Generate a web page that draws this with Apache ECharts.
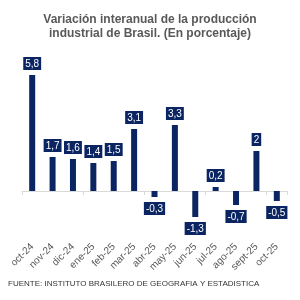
<!DOCTYPE html>
<html>
<head>
<meta charset="utf-8">
<script src="https://cdn.jsdelivr.net/npm/echarts@6/dist/echarts.min.js"></script>
<style>
  html, body { margin: 0; padding: 0; background: #fff; }
  #chart { width: 300px; height: 300px; }
</style>
</head>
<body>
<div id="chart"></div>
<script>
const meses = ['oct-24', 'nov-24', 'dic-24', 'ene-25', 'feb-25', 'mar-25', 'abr-25',
  'may-25', 'jun-25', 'jul-25', 'ago-25', 'sept-25', 'oct-25'];
const variacion = [5.8, 1.7, 1.6, 1.4, 1.5, 3.1, -0.3, 3.3, -1.3, 0.2, -0.7, 2, -0.5];

const azul = '#0b2562';

const initChart = function () {
  const myChart = echarts.init(document.getElementById('chart'));
  const option = {
    animation: false,
    title: [
      {
        text: 'Variación interanual de la producción\nindustrial de Brasil. (En porcentaje)',
        left: 'center',
        top: 8,
        textStyle: {
          color: '#595959',
          fontFamily: 'Liberation Sans',
          fontWeight: 'bold',
          fontSize: 12,
          lineHeight: 14
        }
      },
      {
        text: 'FUENTE: INSTITUTO BRASILERO DE GEOGRAFIA Y ESTADISTICA',
        left: 3,
        top: 275,
        textStyle: {
          color: '#333',
          fontFamily: 'Liberation Sans',
          fontWeight: 'normal',
          fontSize: 8
        }
      }
    ],
    grid: { left: 22, right: 13, top: 71, bottom: 69, outerBoundsMode: 'none' },
    xAxis: [
      {
        type: 'category',
        data: meses,
        axisLine: { onZero: true, lineStyle: { color: '#d9d9d9' } },
        axisTick: { show: true, length: 4, lineStyle: { color: '#d9d9d9' } },
        axisLabel: { show: false }
      },
      {
        type: 'category',
        data: meses,
        position: 'bottom',
        axisLine: { show: false, onZero: false },
        axisTick: { show: false },
        axisLabel: {
          rotate: 45,
          margin: 14,
          color: '#595959',
          fontFamily: 'Liberation Sans',
          fontSize: 10
        }
      }
    ],
    yAxis: {
      type: 'value',
      min: -2,
      max: 6,
      show: false,
      splitLine: { show: false }
    },
    series: [
      {
        type: 'bar',
        xAxisIndex: 0,
        barWidth: 6,
        itemStyle: { color: azul },
        label: {
          show: true,
          position: 'top',
          distance: 5,
          color: '#fff',
          backgroundColor: azul,
          padding: [2, 2, 1, 2],
          fontFamily: 'Liberation Sans',
          fontSize: 10,
          formatter: function (p) {
            return String(p.value).replace('.', ',');
          }
        },
        // las barras negativas llevan la etiqueta por debajo
        data: variacion.map(function (v) {
          return v < 0 ? { value: v, label: { position: 'bottom' } } : v;
        })
      }
    ]
  };
  myChart.setOption(option);
};

window.addEventListener('load', initChart);
</script>
</body>
</html>
